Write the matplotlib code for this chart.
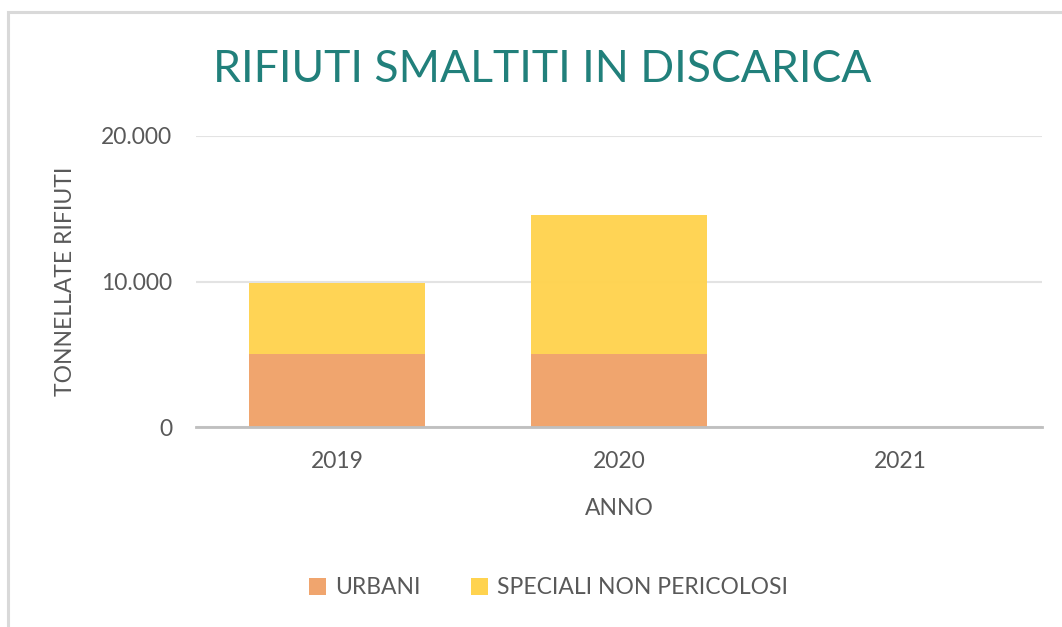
import matplotlib
matplotlib.use("Agg")
import matplotlib.pyplot as plt
from matplotlib.patches import Rectangle, Patch

anni = ['2019', '2020', '2021']
urbani = [5050, 5050, 0]
speciali = [4860, 9530, 0]
serie_nomi = ['URBANI', 'SPECIALI NON PERICOLOSI']
yticks = [0, 10000, 20000]
ytick_labels = ['0', '10.000', '20.000']

plt.rcParams['font.family'] = ['Lato', 'DejaVu Sans']

W, H = 1062, 627
fig = plt.figure(figsize=(W / 100, H / 100), dpi=100)
fig.patch.set_facecolor('white')

# figure border (cropped at right/bottom)
fig.patches.append(Rectangle((8 / W, -0.2), 1.5, 1 - 12 / H + 0.2, transform=fig.transFigure,
                             fill=False, edgecolor='#D9D9D9', linewidth=2.2, zorder=0))

ax = fig.add_axes([196 / W, 1 - 427.3 / H, (1041.7 - 196) / W, (427.3 - 135.7) / H])
x = list(range(len(anni)))
c_urb = '#F0A56E'
c_spe = '#FFD34F'
ax.bar(x, urbani, width=0.625, color=c_urb, zorder=2)
ax.bar(x, speciali, width=0.625, bottom=urbani, color=c_spe, alpha=0.97, zorder=2)

ax.set_xlim(-0.5, len(anni) - 0.5)
ax.set_ylim(0, 20000)
ax.set_yticks(yticks)
ax.set_yticklabels(ytick_labels)
ax.set_xticks(x)
ax.set_xticklabels(anni)
ax.tick_params(axis='both', length=0, labelsize=16.5, colors='#595959')
ax.tick_params(axis='y', pad=17)
ax.tick_params(axis='x', pad=17)
for s in ['top', 'right', 'left']:
    ax.spines[s].set_visible(False)
ax.spines['bottom'].set_color('#BFBFBF')
ax.spines['bottom'].set_linewidth(2)
ax.spines['bottom'].set_zorder(3)
ax.yaxis.grid(True, color='#E3E3E3', linewidth=1.5, zorder=0)
ax.set_axisbelow(True)

ax.set_ylabel('TONNELLATE RIFIUTI', fontsize=16.5, color='#595959', va='center')
ax.yaxis.set_label_coords(-0.154, 0.5)
ax.set_xlabel('ANNO', fontsize=16.5, color='#595959', va='center')
ax.xaxis.set_label_coords(0.501, -0.277)

fig.text(542 / W, 1 - 69 / H, 'RIFIUTI SMALTITI IN DISCARICA', ha='center', va='center',
         fontsize=32, color='#21807B', fontweight='normal')

handles = [Patch(facecolor=c_urb), Patch(facecolor=c_spe)]
fig.legend(handles, serie_nomi, loc='center', bbox_to_anchor=(548.5 / W, 1 - 588 / H), ncol=2,
           frameon=False, fontsize=16.5, labelcolor='#595959', handlelength=0.75, handleheight=0.75,
           handletextpad=0.4, columnspacing=2.2)

fig.savefig('out.png', dpi=100, facecolor='white')
